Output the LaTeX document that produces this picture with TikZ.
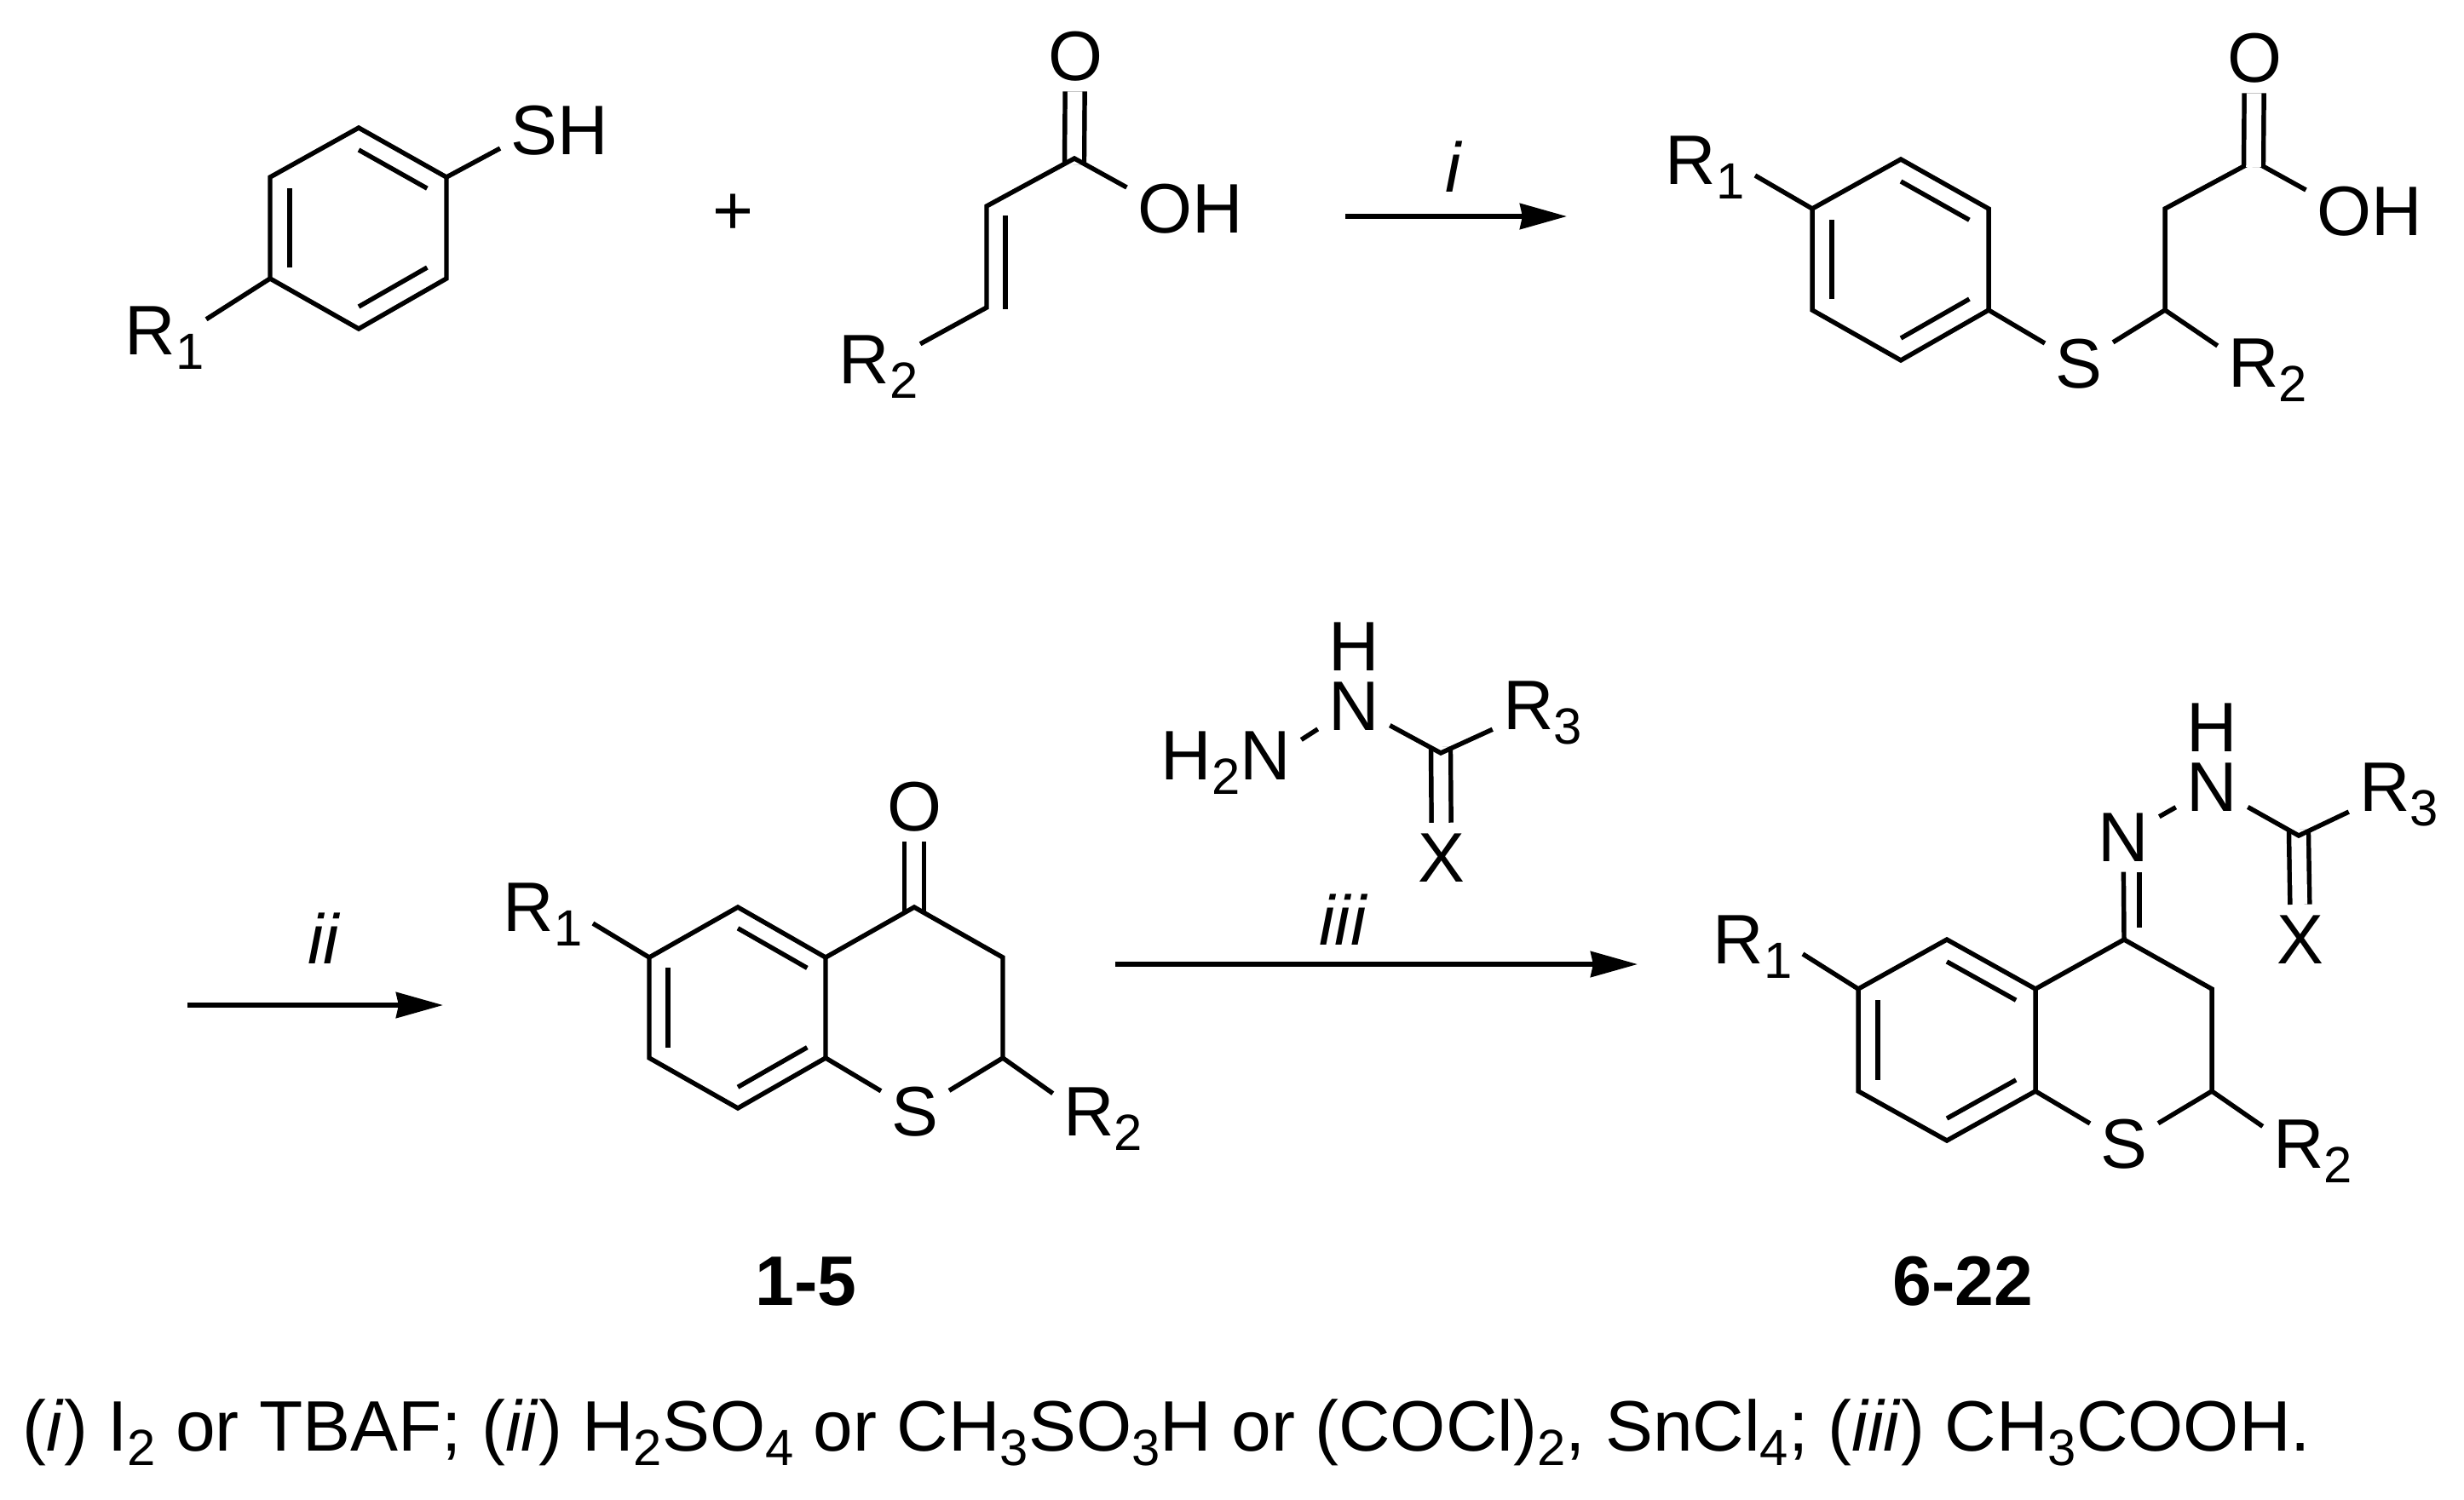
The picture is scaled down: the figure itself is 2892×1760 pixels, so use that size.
\documentclass[tikz,border=0pt]{standalone}
\usepackage{fontspec}
\setmainfont{Liberation Sans}
\usetikzlibrary{arrows.meta,calc}
\newcommand{\dn}[1]{\raisebox{-5.1pt}{\fontsize{17}{20}\selectfont #1}}
\tikzset{
  atom/.style={font=\fontsize{23.4}{28}\selectfont,inner sep=2.8pt,anchor=base},
  dbl/.style={double,double distance=.175cm,shorten <=-.07cm},
  rxn/.style={-{Stealth[length=.55cm,width=.3cm,inset=.03cm]}}
}
\begin{document}
\begin{tikzpicture}[x=.01cm,y=-.01cm,line width=1.55pt]
  \useasboundingbox (0,0) rectangle (2892,1760);
  \draw
    (421,268) coordinate (ac)
    (421,150) coordinate (a1)
    (524,208) coordinate (a2)
    (524,327) coordinate (a3)
    (421,386) coordinate (a4)
    (317,327) coordinate (a5)
    (317,208) coordinate (a6)
    (627,181) node[atom] (sh){S\rlap{H}}
    (193,416) node[atom,inner sep=0pt] (ar1){R\dn{1}}
    (861,252) node[atom,anchor=center] (plus){+}
    (1261,186) coordinate (b1)
    (1158,242) coordinate (b2)
    (1158,361) coordinate (b3)
    (1180,253) coordinate (b4)
    (1180,363) coordinate (b5)
    (1262,94) node[atom] (bo){O}
    (1367,273) node[atom] (boh){O\rlap{H}}
    (1031,450) node[atom,inner sep=0pt] (br2){R\dn{2}}
    (1579,254) coordinate (i1)
    (1839,254) coordinate (i2)
    (1706,225) node[atom,font=\fontsize{23.4}{28}\selectfont\itshape] (il){i};
  \draw
    (2231,305) coordinate (cc)
    (2231,187) coordinate (c1)
    (2334,245) coordinate (c2)
    (2334,364) coordinate (c3)
    (2231,423) coordinate (c4)
    (2127,364) coordinate (c5)
    (2127,245) coordinate (c6)
    (2541,364) coordinate (c7)
    (2541,245) coordinate (c8)
    (2645,189) coordinate (c9)
    (2001,216) node[atom] (cr1){R\dn{1}}
    (2440,455) node[atom] (cs){S}
    (2645,454) node[atom] (cr2){R\rlap{\dn{2}}}
    (2646,96) node[atom] (co){O}
    (2751,276) node[atom] (coh){O\rlap{H}};
  \draw
    (220,1180) coordinate (ii1)
    (520,1180) coordinate (ii2)
    (380,1131) node[atom,font=\fontsize{23.4}{28}\selectfont\itshape] (iil){ii}
    (866,1183) coordinate (dc)
    (866,1065) coordinate (d1)
    (969,1124) coordinate (d2)
    (969,1242) coordinate (d3)
    (866,1301) coordinate (d4)
    (762,1242) coordinate (d5)
    (762,1124) coordinate (d6)
    (1073,1065) coordinate (d7)
    (1177,1124) coordinate (d8)
    (1177,1242) coordinate (d9)
    (637,1093) node[atom] (dr1){R\dn{1}}
    (1073,975) node[atom] (do){O}
    (1074,1333) node[atom] (ds){S}
    (1278,1333) node[atom] (dr2){R\rlap{\dn{2}}}
    (946,1532) node[atom,font=\fontsize{23.4}{28}\selectfont\bfseries] (dn){1-5};
  \draw
    (1485,915) node[atom] (en1){\llap{H\dn{2}}N}
    (1589,857) node[atom] (en2){N}
    (1589,787) node[atom] (eh){H}
    (1691,884) coordinate (e1)
    (1794,856) node[atom] (er3){R\rlap{\dn{3}}}
    (1692,1035) node[atom] (ex){X}
    (1309,1132) coordinate (iii1)
    (1922,1132) coordinate (iii2)
    (1576,1109) node[atom,font=\fontsize{23.4}{28}\selectfont\itshape] (iiil){iii};
  \draw
    (2285,1221) coordinate (fc)
    (2285,1103) coordinate (f1)
    (2389,1161) coordinate (f2)
    (2389,1281) coordinate (f3)
    (2285,1339) coordinate (f4)
    (2181,1281) coordinate (f5)
    (2181,1161) coordinate (f6)
    (2493,1103) coordinate (f7)
    (2596,1161) coordinate (f8)
    (2596,1281) coordinate (f9)
    (2511,1089) coordinate (f10)
    (2698,981) coordinate (f11)
    (2057,1131) node[atom] (fr1){R\dn{1}}
    (2493,1371) node[atom] (fs){S}
    (2698,1371) node[atom] (fr2){R\rlap{\dn{2}}}
    (2492,1011) node[atom] (fn1){N}
    (2596,952) node[atom] (fn2){N}
    (2596,882) node[atom] (fh){H}
    (2799,952) node[atom] (fr3){R\rlap{\dn{3}}}
    (2700,1131) node[atom] (fx){X}
    (2304,1532) node[atom,font=\fontsize{23.4}{28}\selectfont\bfseries] (fnum){6-22}
    (24,1703) node[atom,anchor=base west,inner sep=0pt,font=\fontsize{23.85}{28}\selectfont] (note){(\textit{i}) I\dn{2} or TBAF; (\textit{ii}) H\dn{2}SO\dn{4} or CH\dn{3}SO\dn{3}H or (COCl)\dn{2}, SnCl\dn{4}; (\textit{iii}) CH\dn{3}COOH.};
  \begin{scope}[-]
    \draw (a1) -- (a2) -- (a3) -- (a4) -- (a5) -- (a6) -- cycle;
    \draw ($(ac)!.78!(a1)$) to ($(ac)!.78!(a2)$);
    \draw ($(ac)!.78!(a3)$) to ($(ac)!.78!(a4)$);
    \draw ($(ac)!.78!(a5)$) to ($(ac)!.78!(a6)$);
    \draw (a2) to (sh);
    \draw (a5) to (ar1.24);
    \draw[dbl] (b1) to (bo);
    \draw (boh) to (b1) to (b2) to (b3) to (br2);
    \draw (b4) to (b5);
    \draw (c1) -- (c2) -- (c3) -- (c4) -- (c5) -- (c6) -- cycle;
    \draw ($(cc)!.78!(c1)$) to ($(cc)!.78!(c2)$);
    \draw ($(cc)!.78!(c3)$) to ($(cc)!.78!(c4)$);
    \draw ($(cc)!.78!(c5)$) to ($(cc)!.78!(c6)$);
    \draw (c6) to (cr1.-9);
    \draw (c3) to (cs);
    \draw (cs) to (c7) to (c8) to (c9) to (coh);
    \draw (c7) to (cr2);
    \draw[dbl] (c9) to (co);
    \draw[dbl] (d7) to (do);
    \draw (d1) -- (d2) -- (d3) -- (d4) -- (d5) -- (d6) -- cycle;
    \draw ($(dc)!.79!(d1)$) to ($(dc)!.79!(d2)$);
    \draw ($(dc)!.79!(d3)$) to ($(dc)!.79!(d4)$);
    \draw ($(dc)!.79!(d5)$) to ($(dc)!.79!(d6)$);
    \draw (d6) to (dr1.-10);
    \draw (d2) to (d7) to (d8) to (d9) to (ds);
    \draw (d3) to (ds);
    \draw (d9) to (dr2);
    \draw (en1) to (en2);
    \draw[dbl] (e1) to (ex);
    \draw (en2) to (e1) to (er3);
    \draw[dbl] (f11) to (fx);
    \draw (f1) -- (f2) -- (f3) -- (f4) -- (f5) -- (f6) -- cycle;
    \draw ($(fc)!.78!(f1)$) to ($(fc)!.78!(f2)$);
    \draw ($(fc)!.78!(f3)$) to ($(fc)!.78!(f4)$);
    \draw ($(fc)!.78!(f5)$) to ($(fc)!.78!(f6)$);
    \draw (f6) to (fr1.-8);
    \draw (f2) to (f7) to (f8) to (f9) to (fs);
    \draw (f3) to (fs);
    \draw (f9) to (fr2);
    \draw (f7) to (fn1);
    \draw (f10) to (f10 |- fn1.south);
    \draw (fn1) to (fn2);
    \draw (fn2) to (f11) to (fr3);
  \end{scope}
  \draw[rxn] (i1) to (i2);
  \draw[rxn] (ii1) to (ii2);
  \draw[rxn] (iii1) to (iii2);
\end{tikzpicture}
\end{document}
